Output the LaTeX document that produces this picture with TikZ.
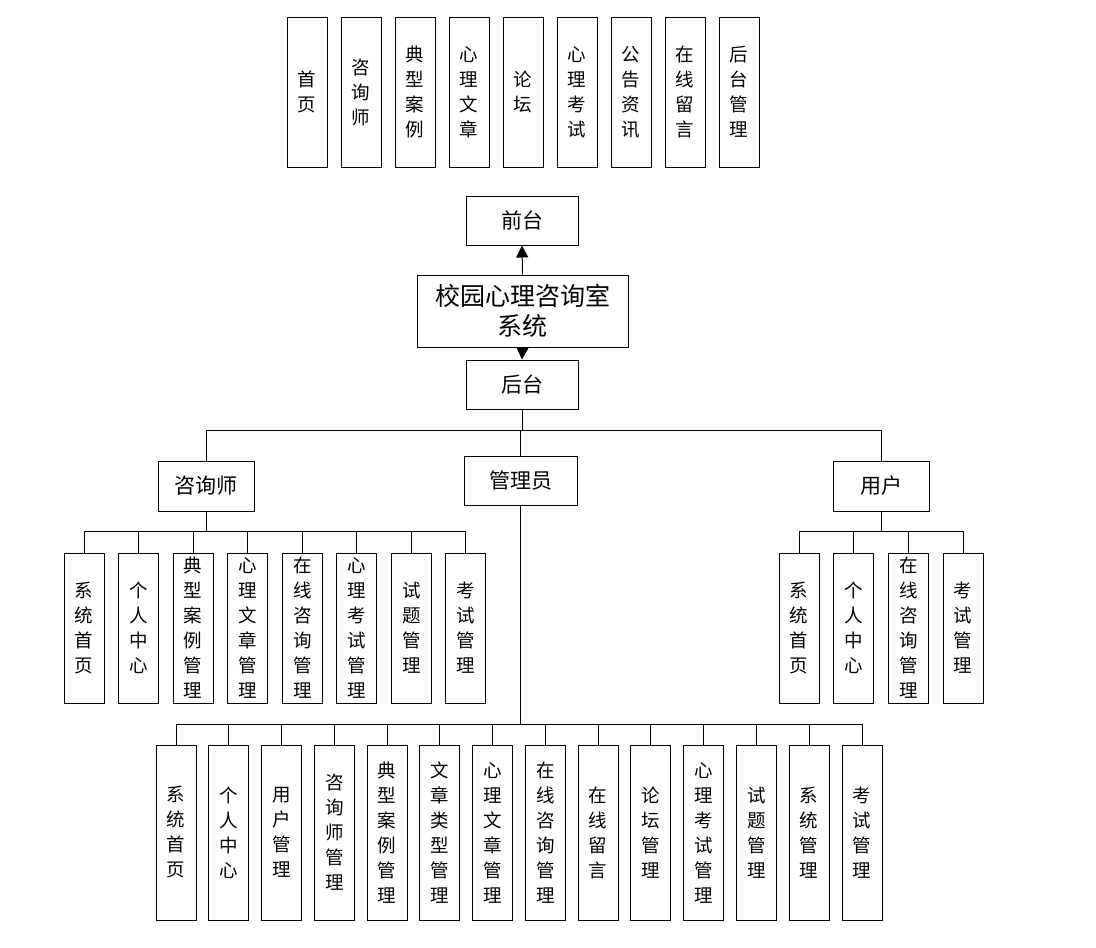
\documentclass[tikz,border=0pt]{standalone}
\usepackage{fontspec}
\setmainfont{Noto Sans CJK SC}
\usetikzlibrary{arrows.meta}

\begin{document}
\begin{tikzpicture}[
    x=1pt, y=-1pt,
    >={Triangle[width=12pt,length=12pt]},
    line width=1pt,
    hbox/.style={draw, inner sep=0pt, font=\fontsize{21}{26}\selectfont},
    vbox/.style={draw, inner sep=0pt, minimum width=40pt, minimum height=150pt,
      text width=40pt, align=center, font=\fontsize{18.5}{25}\selectfont},
    tallbox/.style={vbox, minimum height=175pt}
]
  \useasboundingbox (0,0) rectangle (1096,948);

  % top row
  \foreach \t [count=\i] in {{首\\页}, {咨\\询\\师}, {典\\型\\案\\例}, {心\\理\\文\\章},
      {论\\坛}, {心\\理\\考\\试}, {公\\告\\资\\讯}, {在\\线\\留\\言}, {后\\台\\管\\理}}
    \node[vbox] (top\i) at ({307+54*(\i-1)},92) {\t};

  % nodes
  \node[hbox, minimum width=112pt, minimum height=49pt] (qt) at (522,220.5) {前台};
  \node[hbox, minimum width=211pt, minimum height=72pt, align=center,
        font=\fontsize{25}{30}\selectfont] (sys) at (522.5,311) {校园心理咨询室\\系统};
  \node[hbox, minimum width=112pt, minimum height=49pt] (ht) at (522,384.5) {后台};
  \node[hbox, minimum width=96pt, minimum height=50pt] (zxs) at (206,486) {咨询师};
  \node[hbox, minimum width=113pt, minimum height=49pt] (gly) at (520.5,480.5) {管理员};
  \node[hbox, minimum width=96pt, minimum height=50pt] (yh) at (881,486) {用户};

  \coordinate (bus) at (522,430);

  % edges
  \draw[->] (sys.north) -- (qt.south);
  \draw[->] (sys.south) -- (ht.north);
  \draw (ht.south) -- (bus);
  \draw (bus) -| (zxs.north);
  \draw (bus) -| (yh.north);
  \draw (bus) -| (gly.north);

  % consultant
  \foreach \t [count=\i] in {{系\\统\\首\\页}, {个\\人\\中\\心}, {典\\型\\案\\例\\管\\理},
      {心\\理\\文\\章\\管\\理}, {在\\线\\咨\\询\\管\\理}, {心\\理\\考\\试\\管\\理},
      {试\\题\\管\\理}, {考\\试\\管\\理}} {
    \node[vbox] (zc\i) at ({84+54.57*(\i-1)},628) {\t};
    \draw (zxs.south) -- ++(0,20) -| (zc\i.north);
  }

  % user
  \foreach \t [count=\i] in {{系\\统\\首\\页}, {个\\人\\中\\心}, {在\\线\\咨\\询\\管\\理},
      {考\\试\\管\\理}} {
    \node[vbox] (yc\i) at ({799+54.67*(\i-1)},628) {\t};
    \draw (yh.south) -- ++(0,20) -| (yc\i.north);
  }

  % admin
  \foreach \t [count=\i] in {{系\\统\\首\\页}, {个\\人\\中\\心}, {用\\户\\管\\理},
      {咨\\询\\师\\管\\理}, {典\\型\\案\\例\\管\\理}, {文\\章\\类\\型\\管\\理},
      {心\\理\\文\\章\\管\\理}, {在\\线\\咨\\询\\管\\理}, {在\\线\\留\\言},
      {论\\坛\\管\\理}, {心\\理\\考\\试\\管\\理}, {试\\题\\管\\理}, {系\\统\\管\\理},
      {考\\试\\管\\理}} {
    \node[tallbox] (gc\i) at ({176+52.77*(\i-1)},832.5) {\t};
    \draw (gly.south) -- (520.5,724) -| (gc\i.north);
  }
\end{tikzpicture}
\end{document}
